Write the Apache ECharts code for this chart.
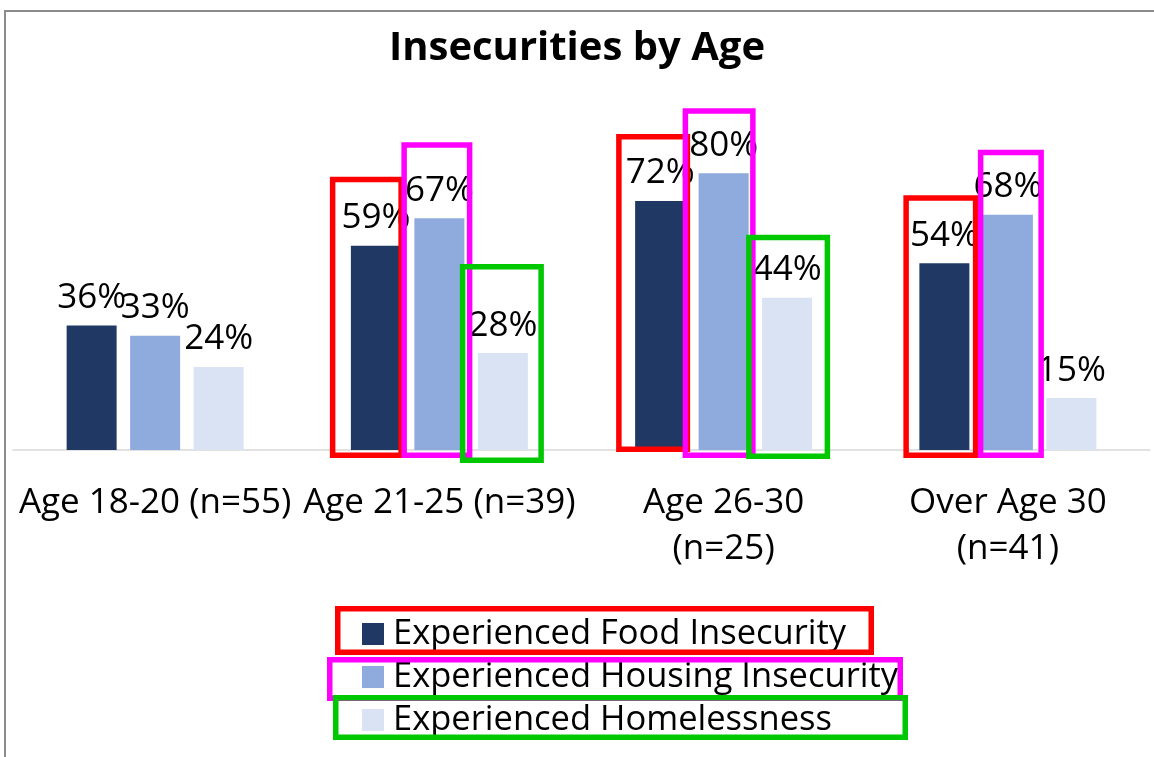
<!DOCTYPE html>
<html><head><meta charset="utf-8">
<script src="https://cdn.jsdelivr.net/npm/echarts@6/dist/echarts.min.js"></script>
<style>html,body{margin:0;padding:0;background:#fff}#c{width:1154px;height:757px}</style>
</head><body><div id="c"></div>
<script>
const categories = ['Age 18-20 (n=55)', 'Age 21-25 (n=39)', 'Age 26-30\n(n=25)', 'Over Age 30\n(n=41)'];
const seriesNames = ['Experienced Food Insecurity', 'Experienced Housing Insecurity', 'Experienced Homelessness'];
const foodInsecurity = [36, 59, 72, 54];
const housingInsecurity = [33, 67, 80, 68];
const homelessness = [24, 28, 44, 15];
// highlighted bars: [seriesIndex, categoryIndex]
const annotatedBars = [[0,1],[1,1],[2,1],[0,2],[1,2],[2,2],[0,3],[1,3]];
// hand-drawn box padding around each highlighted bar (outer edge): [left, right, aboveTop, belowBase]
const annotationPads = [[21,3,69,8],[13,8,76,8],[18,16,89,13],[19,5,67,2],[16,7,65,8],[16,18,63,9],[16,9,68,8],[5,11,65,8]];

const colors = ['#203864', '#8faadc', '#dae3f3'];
const boxColors = ['#ff0000', '#ff00ff', '#00c800'];
const FONT = 'Open Sans';

const chart = echarts.init(document.getElementById('c'));
const seriesData = [foodInsecurity, housingInsecurity, homelessness];
const option = {
  animation: false,
  textStyle: {fontFamily: FONT},
  title: {
    text: 'Insecurities by Age', left: 'center', top: 24,
    textStyle: {fontFamily: FONT, fontWeight: 'bold', fontSize: 40, color: '#000'}
  },
  grid: {left: 13, right: 4, top: 104, bottom: 307, containLabel: false},
  xAxis: {
    type: 'category', data: categories,
    axisLine: {lineStyle: {color: '#d9d9d9', width: 1.5}},
    axisTick: {show: false},
    axisLabel: {interval: 0, margin: 30, fontSize: 35, lineHeight: 46, color: '#000', fontFamily: FONT}
  },
  yAxis: {type: 'value', min: 0, max: 100, show: false, splitLine: {show: false}},
  legend: {
    orient: 'vertical', left: 357, top: 609,
    itemWidth: 22, itemHeight: 22, itemGap: 3, icon: 'rect',
    textStyle: {fontSize: 34.5, lineHeight: 40, color: '#000', fontFamily: FONT, padding: [0,0,0,4]},
    data: seriesNames
  },
  series: seriesNames.map((n, i) => ({
    name: n, type: 'bar', data: seriesData[i], barWidth: 50, barGap: '27%',
    itemStyle: {color: colors[i]},
    label: {show: true, position: 'top', distance: 10, formatter: '{c}%', fontSize: 35, color: '#000', fontFamily: FONT}
  }))
};
chart.setOption(option);

function drawBoxes() {
  const g = [];
  const W = 5.5;
  g.push({type: 'rect', shape: {x: 5, y: 11, width: 1170, height: 770}, style: {fill: 'none', stroke: '#8c8c8c', lineWidth: 2}, z: 100});
  annotatedBars.forEach(([s, c], k) => {
    const p = annotationPads[k];
    const v = seriesData[s][c];
    const top = chart.convertToPixel({seriesIndex: s}, [c, v]);
    const base = chart.convertToPixel({seriesIndex: s}, [c, 0]);
    const layout = chart.getModel().getSeriesByIndex(s).getData().getItemLayout(c);
    const x0 = layout.x - p[0] + W / 2, x1 = layout.x + layout.width + p[1] - W / 2;
    const y0 = top[1] - p[2] + W / 2, y1 = base[1] + p[3] - W / 2;
    g.push({type: 'rect', shape: {x: x0, y: y0, width: x1 - x0, height: y1 - y0},
      style: {fill: 'none', stroke: boxColors[s], lineWidth: W}, z: 100 + k});
  });
  // legend highlight boxes (outer edges)
  const legendBoxes = [[335, 606, 874, 655], [327, 657, 903, 701], [333, 695, 908, 740]];
  legendBoxes.forEach((b, i) => g.push({type: 'rect',
    shape: {x: b[0] + W / 2, y: b[1] + W / 2, width: b[2] - b[0] - W, height: b[3] - b[1] - W},
    style: {fill: 'none', stroke: boxColors[i], lineWidth: W}, z: 100 + i}));
  chart.setOption({graphic: g});
}
drawBoxes();
</script></body></html>
